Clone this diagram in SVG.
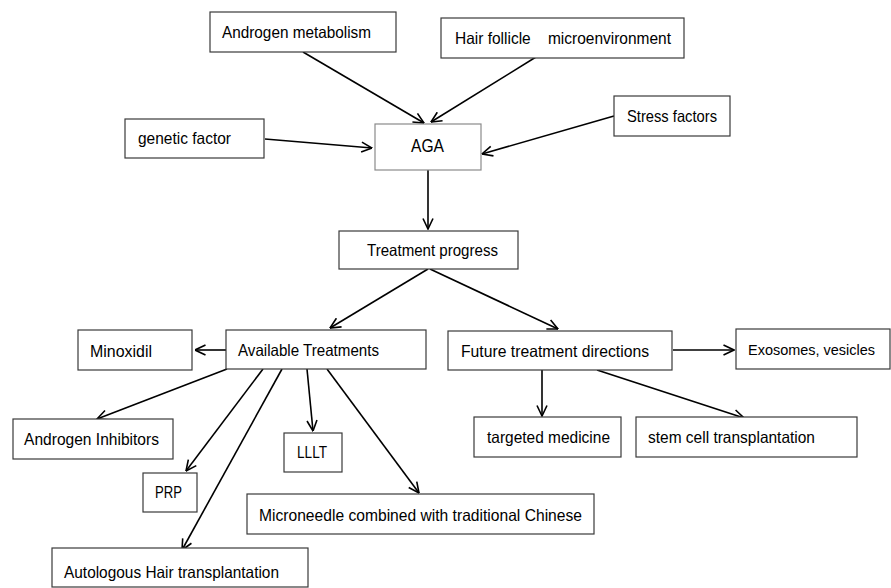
<svg xmlns="http://www.w3.org/2000/svg" width="891" height="588" viewBox="0 0 891 588">
<defs>
<style>
.box{fill:#fff;stroke:#3a3a3a;stroke-width:1.2}
.agabox{fill:#fff;stroke:#8a8a8a;stroke-width:1.2}
.t{font-family:"Liberation Sans Narrow","Liberation Sans",Arial,sans-serif;font-size:16.5px;fill:#000;white-space:pre}
.big{font-size:19px}
.sm{font-size:15px}
.c{fill:none;stroke:#000;stroke-width:1.6;marker-end:url(#arr)}
</style>
<marker id="arr" viewBox="0 0 12 12" refX="11.5" refY="6" markerWidth="12" markerHeight="12" markerUnits="userSpaceOnUse" orient="auto">
<path d="M1,1 L11.5,6 L1,11" fill="none" stroke="#000" stroke-width="1.6"/>
</marker>
</defs>
<rect width="891" height="588" fill="#fff"/>
<g id="connectors">
<line class="c" x1="303" y1="52" x2="424" y2="123"/>
<line class="c" x1="536" y1="57" x2="431" y2="122"/>
<line class="c" x1="265" y1="139" x2="372" y2="148"/>
<line class="c" x1="614" y1="116" x2="482" y2="154"/>
<line class="c" x1="428" y1="170" x2="428" y2="229"/>
<line class="c" x1="428" y1="269" x2="330" y2="328"/>
<line class="c" x1="430" y1="269" x2="558" y2="329"/>
<line class="c" x1="226" y1="350" x2="195" y2="350"/>
<line class="c" x1="673" y1="350" x2="734" y2="350"/>
<line class="c" x1="227" y1="369" x2="97" y2="419"/>
<line class="c" x1="263" y1="369" x2="186" y2="471"/>
<line class="c" x1="282" y1="369" x2="182" y2="550"/>
<line class="c" x1="307" y1="369" x2="313" y2="431"/>
<line class="c" x1="327" y1="369" x2="419" y2="493"/>
<line class="c" x1="542" y1="370" x2="542" y2="416"/>
<line class="c" x1="597" y1="370" x2="744" y2="418"/>
</g>
<g id="androgen-metabolism"><rect class="box" x="210" y="12" width="186" height="40"/><text class="t" x="222" y="38" textLength="149" lengthAdjust="spacingAndGlyphs">Androgen metabolism</text></g>
<g id="hair-follicle"><rect class="box" x="441" y="18" width="243" height="40"/><text class="t" x="455" y="44" textLength="216" lengthAdjust="spacingAndGlyphs" xml:space="preserve">Hair follicle    microenvironment</text></g>
<g id="genetic-factor"><rect class="box" x="125" y="119" width="139" height="39"/><text class="t" x="138" y="144" textLength="93" lengthAdjust="spacingAndGlyphs">genetic factor</text></g>
<g id="aga"><rect class="agabox" x="375" y="124" width="106" height="46"/><text class="t big" x="411" y="152" textLength="33" lengthAdjust="spacingAndGlyphs">AGA</text></g>
<g id="stress-factors"><rect class="box" x="614" y="96" width="116" height="40"/><text class="t" x="627" y="122" textLength="90" lengthAdjust="spacingAndGlyphs">Stress factors</text></g>
<g id="treatment-progress"><rect class="box" x="339" y="231" width="179" height="38"/><text class="t" x="367" y="256" textLength="131" lengthAdjust="spacingAndGlyphs">Treatment progress</text></g>
<g id="minoxidil"><rect class="box" x="78" y="330" width="114" height="40"/><text class="t" x="90" y="357" textLength="62" lengthAdjust="spacingAndGlyphs">Minoxidil</text></g>
<g id="available-treatments"><rect class="box" x="226" y="330" width="200" height="39"/><text class="t" x="238" y="356" textLength="141" lengthAdjust="spacingAndGlyphs">Available Treatments</text></g>
<g id="future-directions"><rect class="box" x="448" y="331" width="224" height="39"/><text class="t" x="461" y="357" textLength="188" lengthAdjust="spacingAndGlyphs">Future treatment directions</text></g>
<g id="exosomes"><rect class="box" x="736" y="329" width="154" height="40"/><text class="t sm" x="748" y="355" textLength="127" lengthAdjust="spacingAndGlyphs">Exosomes, vesicles</text></g>
<g id="androgen-inhibitors"><rect class="box" x="13" y="419" width="160" height="40"/><text class="t" x="24" y="445" textLength="135" lengthAdjust="spacingAndGlyphs">Androgen Inhibitors</text></g>
<g id="lllt"><rect class="box" x="284" y="433" width="58" height="39"/><text class="t" x="297" y="458" textLength="30" lengthAdjust="spacingAndGlyphs">LLLT</text></g>
<g id="targeted-medicine"><rect class="box" x="474" y="417" width="147" height="40"/><text class="t" x="487" y="443" textLength="123" lengthAdjust="spacingAndGlyphs">targeted medicine</text></g>
<g id="stem-cell"><rect class="box" x="636" y="417" width="221" height="40"/><text class="t" x="648" y="443" textLength="167" lengthAdjust="spacingAndGlyphs">stem cell transplantation</text></g>
<g id="prp"><rect class="box" x="143" y="473" width="54" height="39"/><text class="t" x="155" y="498" textLength="27" lengthAdjust="spacingAndGlyphs">PRP</text></g>
<g id="microneedle"><rect class="box" x="247" y="494" width="347" height="40"/><text class="t" x="259" y="521" textLength="323" lengthAdjust="spacingAndGlyphs">Microneedle combined with traditional Chinese</text></g>
<g id="autologous"><rect class="box" x="52" y="548" width="256" height="39"/><text class="t" x="64" y="578" textLength="215" lengthAdjust="spacingAndGlyphs">Autologous Hair transplantation</text></g>
</svg>
